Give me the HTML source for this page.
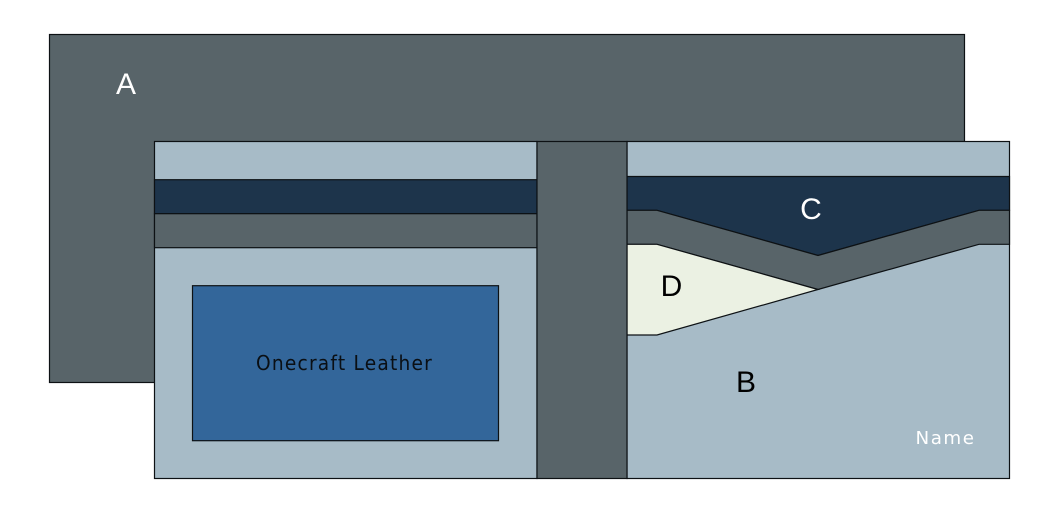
<!DOCTYPE html>
<html>
<head>
<meta charset="utf-8">
<style>
html,body{margin:0;padding:0;background:#fff;width:1058px;height:519px;overflow:hidden}
svg{display:block}
text{font-family:"Liberation Sans",sans-serif}
</style>
</head>
<body>
<svg width="1058" height="519" viewBox="0 0 1058 519" xmlns="http://www.w3.org/2000/svg">
<g stroke="#0d1114" stroke-width="1.2">
<rect x="49.5" y="34.5" width="915" height="348" fill="#586469"/>
<rect x="154.5" y="141.5" width="382.5" height="337" fill="#a7bbc7"/>
<rect x="154.5" y="179.7" width="382.5" height="34" fill="#1d344b"/>
<rect x="154.5" y="213.7" width="382.5" height="34" fill="#586469"/>
<rect x="192.5" y="285.7" width="306" height="155" fill="#33669a"/>
<rect x="627" y="141.5" width="382.5" height="337" fill="#a7bbc7"/>
<polygon points="627,176.5 1009.5,176.5 1009.5,210.3 979,210.3 818,255.5 657,210.3 627,210.3" fill="#1d344b"/>
<polygon points="627,210.3 657,210.3 818,255.5 979,210.3 1009.5,210.3 1009.5,244.3 979,244.3 818,289.5 657,244.3 627,244.3" fill="#586469"/>
<polygon points="627,244.3 657,244.3 818,289.5 657,335 627,335" fill="#ebf1e3"/>
<rect x="537" y="141.5" width="90" height="337" fill="#586469"/>
</g>
<text x="126" y="94" font-size="30" fill="#fff" text-anchor="middle">A</text>
<text x="746" y="392" font-size="30" fill="#000" text-anchor="middle">B</text>
<text x="811" y="219" font-size="30" fill="#fff" text-anchor="middle">C</text>
<text x="671.5" y="296" font-size="30" fill="#000" text-anchor="middle">D</text>
<text x="344.5" y="370" font-size="20" fill="#0a0f14" text-anchor="middle" letter-spacing="1.3" style="font-family:'DejaVu Sans',sans-serif" textLength="177" lengthAdjust="spacingAndGlyphs">Onecraft Leather</text>
<text x="945.5" y="444" font-size="18" fill="#fff" text-anchor="middle" letter-spacing="1.5" style="font-family:'DejaVu Sans',sans-serif" textLength="60" lengthAdjust="spacingAndGlyphs">Name</text>
</svg>
</body>
</html>
